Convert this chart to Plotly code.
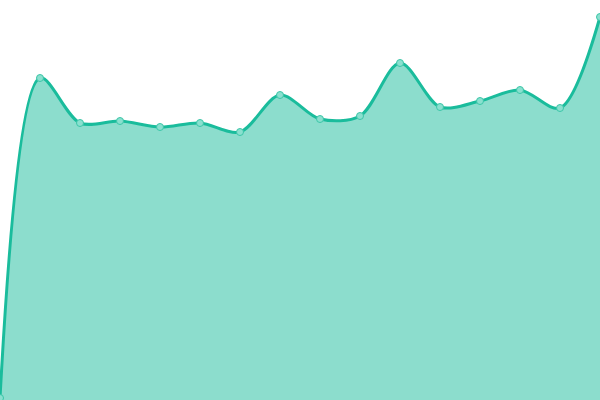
import plotly.graph_objects as go

# datos
x_vals = [0, 40, 80, 120, 160, 200, 240, 280, 320, 360, 400, 440, 480, 520, 560, 600]
y_vals = [2, 322, 277, 279, 273, 277, 268, 305, 281, 284, 337, 293, 299, 310, 292, 383]

color_linea = '#1abc9c'

fig = go.Figure()

fig.add_trace(go.Scatter(
    x=x_vals, y=y_vals,
    mode='lines+markers',
    line=dict(color=color_linea, width=3, shape='spline', smoothing=0.9),
    marker=dict(size=7, color='#8ae0cf', line=dict(color='#3cc6a8', width=1)),
    fill='tozeroy',
    fillcolor='rgba(26,188,156,0.5)',
    cliponaxis=False,
    hoverinfo='x+y'
))

fig.update_layout(
    width=600, height=400,
    margin=dict(l=0, r=0, t=0, b=0),
    plot_bgcolor='white',
    paper_bgcolor='white',
    showlegend=False,
    xaxis=dict(visible=False, range=[0, 600], fixedrange=True),
    yaxis=dict(visible=False, range=[0, 400], fixedrange=True),
)

# quitar el margen del body para que el gráfico ocupe toda la ventana
fig.write_html("out.html", config={'displayModeBar': False},
               post_script="document.body.style.margin='0';")
